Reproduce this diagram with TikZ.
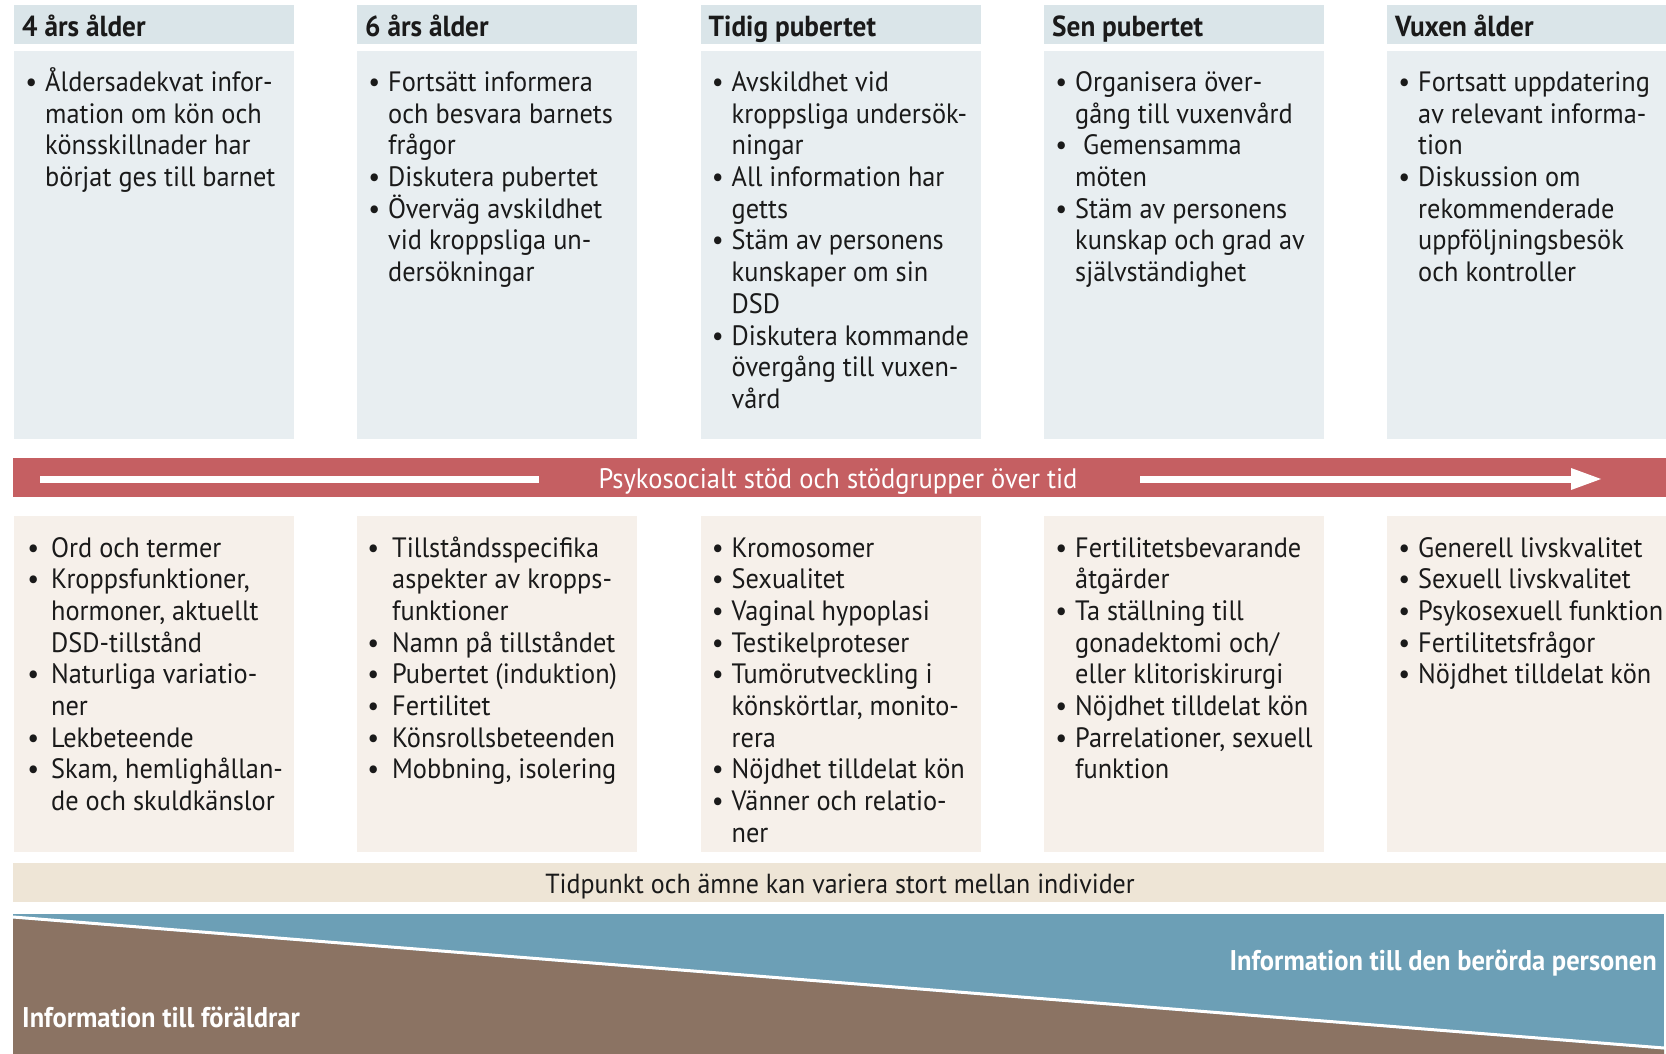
\documentclass[tikz,border=0pt]{standalone}
\usepackage{fontspec}
\setmainfont{PT Sans}[FakeStretch=0.94]
\newfontfamily\labelfont{PT Sans}[FakeStretch=0.93]
\usetikzlibrary{calc}

\definecolor{headbg}{HTML}{DAE5E9}
\definecolor{topbg}{HTML}{E8EEF1}
\definecolor{lowbg}{HTML}{F6F0EA}
\definecolor{tanbg}{HTML}{EEE5D6}
\definecolor{redband}{HTML}{C55F62}
\definecolor{bluebg}{HTML}{6C9FB6}
\definecolor{brownbg}{HTML}{8B7363}
\definecolor{ink}{HTML}{1A1A1A}

% bullet list helpers: bullet centred in a box of width \bw, continuation indent \bw
\newlength\bw
\newcommand\bl{\makebox[\bw][c]{\textbullet}}
\newcommand\cl{\hspace*{\bw}}
\newcommand\lst[2]{\parbox[t]{420pt}{\setlength\bw{#1}#2}}

\tikzset{
  panel/.style={inner sep=0pt, outer sep=0pt, anchor=north west, minimum width=280pt},
  headbox/.style={panel, fill=headbg, minimum height=39.5pt},
  topbox/.style={panel, fill=topbg, minimum height=387.5pt},
  lowbox/.style={panel, fill=lowbg, minimum height=336pt},
  headtext/.style={anchor=base west, inner sep=0pt, text=ink,
    font=\fontsize{29pt}{32pt}\selectfont\bfseries},
  listtext/.style={anchor=base west, inner sep=0pt, text=ink,
    font=\fontsize{28pt}{31.7pt}\selectfont},
  bandtext/.style={anchor=base, inner sep=0pt,
    font=\fontsize{28.2pt}{31.7pt}\selectfont},
  bigtext/.style={inner sep=0pt, text=white,
    font=\labelfont\fontsize{28.5pt}{31pt}\selectfont\bfseries},
}

\begin{document}
\begin{tikzpicture}[x=1pt,y=-1pt]
\useasboundingbox (0,0) rectangle (1666,1054);

% ---- age headers ----
\node[headbox] (h1) at (14,5) {};
\node[headbox] (h2) at (357,5) {};
\node[headbox] (h3) at (700.5,5) {};
\node[headbox] (h4) at (1044,5) {};
\node[headbox] (h5) at (1387,5) {};
\node[headtext] (ht1) at (22,36.5) {4 års ålder};
\node[headtext] (ht2) at (365,36.5) {6 års ålder};
\node[headtext] (ht3) at (708.5,36.5) {Tidig pubertet};
\node[headtext] (ht4) at (1052,36.5) {Sen pubertet};
\node[headtext] (ht5) at (1395,36.5) {Vuxen ålder};

% ---- upper panels ----
\node[topbox] (u1) at (14,51) {};
\node[topbox] (u2) at (357,51) {};
\node[topbox] (u3) at (700.5,51) {};
\node[topbox] (u4) at (1044,51) {};
\node[topbox] (u5) at (1387,51) {};

\node[listtext] (ut1) at (17,91.5) {\lst{28pt}{%
\bl Åldersadekvat infor-\\
\cl mation om kön och\\
\cl könsskillnader har\\
\cl börjat ges till barnet}};

\node[listtext] (ut2) at (360,91.5) {\lst{28pt}{%
\bl Fortsätt informera\\
\cl och besvara barnets\\
\cl frågor\\
\bl Diskutera pubertet\\
\bl Överväg avskildhet\\
\cl vid kroppsliga un-\\
\cl dersökningar}};

\node[listtext] (ut3) at (703.5,91.5) {\lst{28pt}{%
\bl Avskildhet vid\\
\cl kroppsliga undersök-\\
\cl ningar\\
\bl All information har\\
\cl getts\\
\bl Stäm av personens\\
\cl kunskaper om sin\\
\cl DSD\\
\bl Diskutera kommande\\
\cl övergång till vuxen-\\
\cl vård}};

\node[listtext] (ut4) at (1047,91.5) {\lst{28pt}{%
\bl Organisera över-\\
\cl gång till vuxenvård\\
\bl\hspace{8pt}Gemensamma\\
\cl möten\\
\bl Stäm av personens\\
\cl kunskap och grad av\\
\cl självständighet}};

\node[listtext] (ut5) at (1390,91.5) {\lst{28pt}{%
\bl Fortsatt uppdatering\\
\cl av relevant informa-\\
\cl tion\\
\bl Diskussion om\\
\cl rekommenderade\\
\cl uppföljningsbesök\\
\cl och kontroller}};

% ---- psychosocial support band ----
\node[inner sep=0pt, outer sep=0pt, anchor=north west, fill=redband,
      minimum width=1653pt, minimum height=39pt] (band) at (13,458) {};
\node[bandtext, text=white] (bandlabel) at (838,488)
  {Psykosocialt stöd och stödgrupper över tid};
\coordinate (la) at (40,479);
\coordinate (lb) at (539,479);
\coordinate (ra) at (1140,479);
\coordinate (rb) at (1572,479);
\coordinate (tip) at (1601,479);
\draw[white, line width=7pt] (la) -- (lb);
\draw[white, line width=7pt] (ra) -- (rb);
\fill[white] ($(rb)+(-1,-11)$) -- (tip) -- ($(rb)+(-1,11)$) -- cycle;

% ---- lower panels ----
\node[lowbox] (l1) at (14,516) {};
\node[lowbox] (l2) at (357,516) {};
\node[lowbox] (l3) at (700.5,516) {};
\node[lowbox] (l4) at (1044,516) {};
\node[lowbox] (l5) at (1387,516) {};

\node[listtext] (lt1) at (15,557) {\lst{36pt}{%
\bl Ord och termer\\
\bl Kroppsfunktioner,\\
\cl hormoner, aktuellt\\
\cl DSD-tillstånd\\
\bl Naturliga variatio-\\
\cl ner\\
\bl Lekbeteende\\
\bl Skam, hemlighållan-\\
\cl de och skuldkänslor}};

\node[listtext] (lt2) at (354,557) {\lst{38pt}{%
\bl Tillståndsspecifika\\
\cl aspekter av kropps-\\
\cl funktioner\\
\bl Namn på tillståndet\\
\bl Pubertet (induktion)\\
\bl Fertilitet\\
\bl Könsrollsbeteenden\\
\bl Mobbning, isolering}};

\node[listtext] (lt3) at (703.5,557) {\lst{28pt}{%
\bl Kromosomer\\
\bl Sexualitet\\
\bl Vaginal hypoplasi\\
\bl Testikelproteser\\
\bl Tumörutveckling i\\
\cl könskörtlar, monito-\\
\cl rera\\
\bl Nöjdhet tilldelat kön\\
\bl Vänner och relatio-\\
\cl ner}};

\node[listtext] (lt4) at (1047,557) {\lst{28pt}{%
\bl Fertilitetsbevarande\\
\cl åtgärder\\
\bl Ta ställning till\\
\cl gonadektomi och/\\
\cl eller klitoriskirurgi\\
\bl Nöjdhet tilldelat kön\\
\bl Parrelationer, sexuell\\
\cl funktion}};

\node[listtext] (lt5) at (1390,557) {\lst{28pt}{%
\bl Generell livskvalitet\\
\bl Sexuell livskvalitet\\
\bl Psykosexuell funktion\\
\bl Fertilitetsfrågor\\
\bl Nöjdhet tilldelat kön}};

% ---- note band ----
\node[inner sep=0pt, outer sep=0pt, anchor=north west, fill=tanbg,
      minimum width=1653pt, minimum height=39pt] (note) at (13,863) {};
\node[bandtext, text=ink, font=\fontsize{27.6pt}{31.7pt}\selectfont] (notelabel) at (840,893)
  {Tidpunkt och ämne kan variera stort mellan individer};

% ---- shifting information audience ----
\fill[bluebg] (13,914) rectangle (1664,1054);
\fill[brownbg] (13,918.5) -- (1664,1049.5) -- (1664,1054) -- (13,1054) -- cycle;
\draw[white, line width=3pt] (13,917) -- (1664,1048);
\node[bigtext, anchor=base west] (parents) at (22,1027) {Information till föräldrar};
\node[bigtext, anchor=base east] (person) at (1657,970) {Information till den berörda personen};
\end{tikzpicture}
\end{document}
